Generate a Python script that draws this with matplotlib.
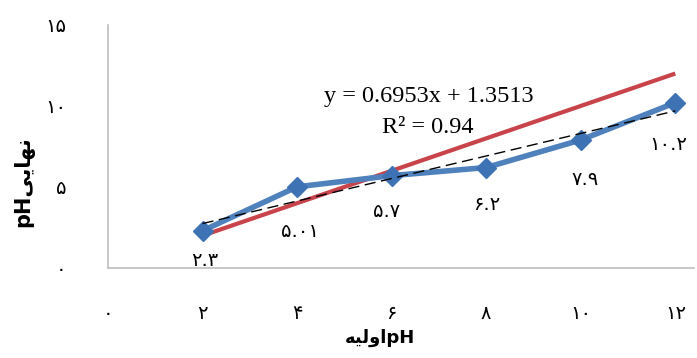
import numpy as np
import matplotlib
matplotlib.use("Agg")
import matplotlib.pyplot as plt

# measured data (initial pH vs final pH)
ph_initial = [2, 4, 6, 8, 10, 12]
ph_final = [2.3, 5.01, 5.7, 6.2, 7.9, 10.2]

# y = x reference line
ref_x = [2, 12]
ref_y = [2, 12]

x_ticks = [0, 2, 4, 6, 8, 10, 12]
y_ticks = [0, 5, 10, 15]

eq_text = "y = 0.6953x + 1.3513"
r2_text = "R² = 0.94"

# label offsets in pixels (dx, dy) below each point
label_offsets = [(2, -30), (3, -45), (-5, -36), (0, -37), (4, -40), (-7, -42)]

FA_DIGITS = str.maketrans("0123456789", "۰۱۲۳۴۵۶۷۸۹")


def fa(v):
    return str(v).translate(FA_DIGITS)


# shaped (presentation forms), visual order
xlabel = "\uFEEA\uFEF4\uFEDF\uFEED\uFE8D" + "pH"      # pH اولیه
ylabel = "pH" + "\uFEF0\uFEF3\uFE8E\uFEEC\uFEE7"      # pH نهایی

fig = plt.figure(figsize=(6.97, 3.58), dpi=100)
ax = fig.add_axes([0.155, 0.2514, 0.841, 0.679])

ax.plot(ref_x, ref_y, color="#c8434a", lw=3, zorder=2, solid_capstyle="butt")
ax.plot(ph_initial, ph_final, color="#4f81bd", lw=4, marker="D",
        markersize=10, markerfacecolor="#3d72b4", markeredgecolor="#3d72b4",
        zorder=3)

# linear trendline
slope, intercept = np.polyfit(ph_initial, ph_final, 1)
tx = np.array([ph_initial[0], ph_initial[-1]])
ax.plot(tx, slope * tx + intercept, color="black", lw=1, ls=(0, (8, 4)), zorder=4)

ax.text(6.79, 10.56, eq_text, family="Liberation Serif",
        fontsize=17.5, ha="center", va="center")
ax.text(6.77, 8.64, r2_text, family="Liberation Serif",
        fontsize=17.5, ha="center", va="center")

for x, y, (dx, dy) in zip(ph_initial, ph_final, label_offsets):
    ax.annotate(fa(y), (x, y), xytext=(dx, dy), textcoords="offset pixels",
                ha="center", va="center", fontsize=14, family="DejaVu Sans")

ax.set_xlim(0, 12.4)
ax.set_ylim(0, 15)
ax.set_xticks(x_ticks)
ax.set_xticklabels([fa(t) for t in x_ticks], fontsize=14)
ax.set_yticks(y_ticks)
ax.set_yticklabels([fa(t) for t in y_ticks], fontsize=14)
ax.tick_params(axis="x", length=0, pad=26)
ax.tick_params(axis="y", length=0, pad=30)

for s in ["top", "right"]:
    ax.spines[s].set_visible(False)
for s in ["left", "bottom"]:
    ax.spines[s].set_color("#bfbfbf")
    ax.spines[s].set_linewidth(1.2)

fig.text(380 / 697, 1 - 338 / 358, xlabel, fontsize=13, fontweight="bold",
         ha="center", va="center")
fig.text(24 / 697, 1 - 182 / 358, ylabel, fontsize=15, fontweight="bold",
         ha="center", va="center", rotation=90)

fig.savefig("out.png", dpi=100, facecolor="white")
